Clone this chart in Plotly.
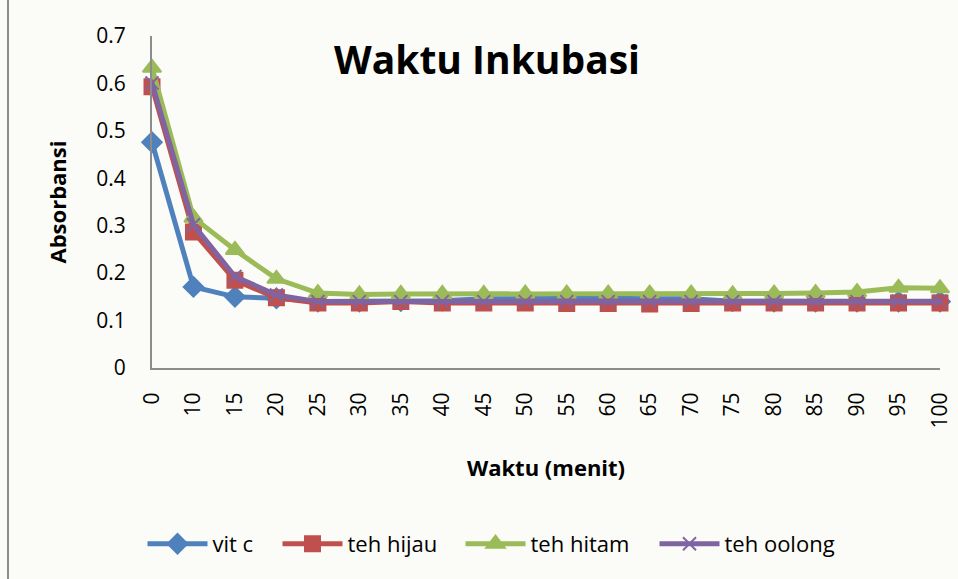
import plotly.graph_objects as go

waktu = ["0", "10", "15", "20", "25", "30", "35", "40", "45", "50", "55",
         "60", "65", "70", "75", "80", "85", "90", "95", "100"]
vit_c = [0.476, 0.171, 0.150, 0.147, 0.140, 0.140, 0.141, 0.142, 0.146, 0.147, 0.147,
         0.147, 0.146, 0.146, 0.141, 0.140, 0.140, 0.140, 0.140, 0.140]
teh_hijau = [0.593, 0.287, 0.185, 0.148, 0.137, 0.137, 0.140, 0.137, 0.137, 0.137, 0.136,
             0.136, 0.135, 0.136, 0.137, 0.137, 0.137, 0.137, 0.137, 0.137]
teh_hitam = [0.633, 0.317, 0.249, 0.188, 0.158, 0.155, 0.156, 0.156, 0.156, 0.157, 0.157,
             0.157, 0.157, 0.157, 0.155, 0.157, 0.158, 0.160, 0.169, 0.168]
teh_oolong = [0.601, 0.302, 0.193, 0.154, 0.140, 0.140, 0.140, 0.140, 0.140, 0.140, 0.140,
              0.140, 0.140, 0.140, 0.140, 0.140, 0.140, 0.140, 0.141, 0.141]

series = [
    ("vit c", vit_c, "#4F81BD", "diamond", 15),
    ("teh hijau", teh_hijau, "#C0504D", "square", 15),
    ("teh hitam", teh_hitam, "#9BBB59", "triangle-up", 16),
    ("teh oolong", teh_oolong, "#8064A2", "x-thin-open", 13),
]
legend_left_px = [148, 283, 466, 660]

fig = go.Figure()
legend_layouts = {}
for i, (name, vals, col, sym, sz) in enumerate(series):
    key = "legend" if i == 0 else f"legend{i + 1}"
    fig.add_trace(go.Scatter(
        x=waktu, y=vals, name=name, mode="lines+markers",
        line=dict(color=col, width=5),
        marker=dict(symbol=sym, size=sz, color=col, line=dict(color=col, width=2)),
        cliponaxis=False, legend=key,
    ))
    legend_layouts[key] = dict(
        orientation="h", x=(legend_left_px[i] - 5.5 - 152) / 788, xanchor="left",
        y=-0.53, yanchor="middle", font=dict(size=22),
        bgcolor="rgba(0,0,0,0)", itemwidth=60,
    )

fig.update_layout(
    width=958, height=579,
    margin=dict(l=152, r=18, t=36, b=211, autoexpand=False),
    paper_bgcolor="#FBFCF7", plot_bgcolor="rgba(0,0,0,0)",
    font=dict(family="Open Sans", color="#000000"),
    title=dict(text="<b>Waktu Inkubasi</b>", x=487 / 958, xanchor="center", xref="container",
               y=1 - 60 / 579, yanchor="middle", yref="container",
               font=dict(size=39, family="Open Sans")),
    showlegend=True,
    xaxis=dict(type="category", range=[0, 19], showgrid=False, showline=True,
               linecolor="#8C8C8C", linewidth=2, ticks="", tickangle=-90,
               tickfont=dict(size=21), ticklabelstandoff=14,
               title=dict(text="<b>Waktu (menit)</b>", font=dict(size=22), standoff=33)),
    yaxis=dict(range=[0, 0.7], dtick=0.1, showgrid=False, showline=True,
               linecolor="#8C8C8C", linewidth=2, ticks="", zeroline=False,
               tickfont=dict(size=21), ticklabelstandoff=20,
               title=dict(text="<b>Absorbansi</b>", font=dict(size=22), standoff=24)),
    shapes=[dict(type="line", xref="paper", yref="paper",
                 x0=(8 - 152) / 788, x1=(8 - 152) / 788, y0=1.2, y1=-0.7,
                 line=dict(color="#8C8C8C", width=2))],
    **legend_layouts,
)

fig.write_html("out.html", config={"displayModeBar": False})
with open("out.html", "r", encoding="utf-8") as f:
    html = f.read()
html = html.replace("<head>", "<head><style>html,body{margin:0;padding:0;}</style>", 1)
with open("out.html", "w", encoding="utf-8") as f:
    f.write(html)
